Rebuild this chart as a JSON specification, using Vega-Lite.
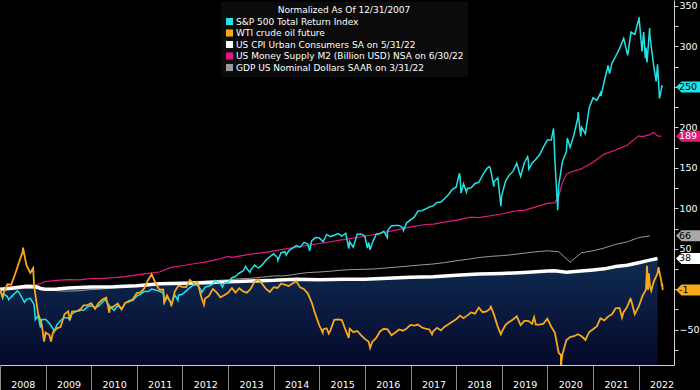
{
 "$schema": "https://vega.github.io/schema/vega-lite/v6.json",
 "width": 674,
 "height": 365,
 "autosize": {"type": "none"},
 "padding": {"left": 0, "top": 0, "right": 26, "bottom": 25},
 "background": "#000000",
 "config": {"view": {"stroke": null}, "font": "DejaVu Sans"},
 "datasets": {
  "spx": [
   {"d":"2007-12-31","v":0},{"d":"2008-01-22","v":-10.7},{"d":"2008-01-31","v":-6},{"d":"2008-02-29","v":-9},{"d":"2008-03-10","v":-12.9},{"d":"2008-03-31","v":-9.4},{"d":"2008-04-30","v":-4.9},{"d":"2008-05-19","v":-2},{"d":"2008-05-31","v":-3.7},{"d":"2008-06-30","v":-11.8},{"d":"2008-07-15","v":-16.2},{"d":"2008-07-31","v":-12.5},{"d":"2008-08-31","v":-11.2},{"d":"2008-09-30","v":-19.1},{"d":"2008-10-10","v":-37.5},{"d":"2008-10-31","v":-32.7},{"d":"2008-11-20","v":-47.5},{"d":"2008-11-30","v":-37.6},{"d":"2008-12-31","v":-37},
   {"d":"2009-01-31","v":-42.3},{"d":"2009-02-28","v":-48.5},{"d":"2009-03-09","v":-52.6},{"d":"2009-03-31","v":-44},{"d":"2009-04-30","v":-38.6},{"d":"2009-05-31","v":-35.2},{"d":"2009-06-30","v":-35.1},{"d":"2009-07-10","v":-37.9},{"d":"2009-07-31","v":-30.1},{"d":"2009-08-31","v":-27.6},{"d":"2009-09-30","v":-24.9},{"d":"2009-10-31","v":-26.2},{"d":"2009-11-30","v":-21.8},{"d":"2009-12-31","v":-20.3},
   {"d":"2010-01-31","v":-23.1},{"d":"2010-02-28","v":-20.8},{"d":"2010-03-31","v":-16},{"d":"2010-04-23","v":-12.4},{"d":"2010-04-30","v":-14.6},{"d":"2010-05-31","v":-21.4},{"d":"2010-07-02","v":-26},{"d":"2010-07-31","v":-20.3},{"d":"2010-08-31","v":-24},{"d":"2010-09-30","v":-17.2},{"d":"2010-10-31","v":-14},{"d":"2010-11-30","v":-14},{"d":"2010-12-31","v":-8.3},
   {"d":"2011-01-31","v":-6},{"d":"2011-02-28","v":-2.8},{"d":"2011-03-31","v":-2.8},{"d":"2011-04-29","v":0.2},{"d":"2011-05-31","v":-1},{"d":"2011-06-30","v":-2.6},{"d":"2011-07-31","v":-4.6},{"d":"2011-08-08","v":-17},{"d":"2011-08-31","v":-9.8},{"d":"2011-09-30","v":-16.1},{"d":"2011-10-03","v":-19},{"d":"2011-10-31","v":-7},{"d":"2011-11-25","v":-13.8},{"d":"2011-11-30","v":-7.3},{"d":"2011-12-31","v":-6.3},
   {"d":"2012-01-31","v":-2},{"d":"2012-02-29","v":2.1},{"d":"2012-03-31","v":5.5},{"d":"2012-04-30","v":4.9},{"d":"2012-05-31","v":-1.5},{"d":"2012-06-04","v":-3.9},{"d":"2012-06-30","v":2.6},{"d":"2012-07-31","v":4.1},{"d":"2012-08-31","v":6.3},{"d":"2012-09-14","v":10.9},{"d":"2012-09-30","v":9.1},{"d":"2012-10-31","v":7.1},{"d":"2012-11-15","v":2.7},{"d":"2012-11-30","v":7.6},{"d":"2012-12-31","v":8.6},
   {"d":"2013-01-31","v":14.3},{"d":"2013-02-28","v":15.7},{"d":"2013-03-31","v":20.1},{"d":"2013-04-30","v":22.5},{"d":"2013-05-21","v":28.2},{"d":"2013-05-31","v":25.3},{"d":"2013-06-24","v":21},{"d":"2013-06-30","v":23.6},{"d":"2013-07-31","v":30},{"d":"2013-08-31","v":26.1},{"d":"2013-09-30","v":30.1},{"d":"2013-10-31","v":36.1},{"d":"2013-11-30","v":40.2},{"d":"2013-12-31","v":43.8},
   {"d":"2014-01-31","v":38.9},{"d":"2014-02-03","v":35.7},{"d":"2014-02-28","v":45.1},{"d":"2014-03-31","v":46.4},{"d":"2014-04-11","v":42.1},{"d":"2014-04-30","v":47.5},{"d":"2014-05-31","v":50.9},{"d":"2014-06-30","v":54},{"d":"2014-07-31","v":52},{"d":"2014-08-31","v":58},{"d":"2014-09-30","v":55.8},{"d":"2014-10-15","v":47.3},{"d":"2014-10-31","v":59.7},{"d":"2014-11-30","v":63.9},{"d":"2014-12-31","v":63.5},
   {"d":"2015-01-31","v":58.7},{"d":"2015-02-28","v":67.7},{"d":"2015-03-31","v":65.1},{"d":"2015-04-30","v":66.8},{"d":"2015-05-31","v":68.8},{"d":"2015-06-30","v":65.6},{"d":"2015-07-31","v":69.2},{"d":"2015-08-24","v":50.3},{"d":"2015-08-31","v":58.8},{"d":"2015-09-29","v":52},{"d":"2015-10-31","v":68.1},{"d":"2015-11-30","v":68.4},{"d":"2015-12-31","v":65.8},
   {"d":"2016-01-20","v":51},{"d":"2016-01-31","v":57.7},{"d":"2016-02-11","v":48.8},{"d":"2016-02-29","v":57.3},{"d":"2016-03-31","v":68},{"d":"2016-04-30","v":68.8},{"d":"2016-05-31","v":71.7},{"d":"2016-06-27","v":64},{"d":"2016-06-30","v":72.2},{"d":"2016-07-31","v":78.6},{"d":"2016-08-31","v":78.8},{"d":"2016-09-30","v":78.9},{"d":"2016-10-31","v":75.7},{"d":"2016-11-04","v":72.4},{"d":"2016-11-30","v":82.1},{"d":"2016-12-31","v":85.7},
   {"d":"2017-01-31","v":89.4},{"d":"2017-02-28","v":96.7},{"d":"2017-03-31","v":97},{"d":"2017-04-30","v":99.1},{"d":"2017-05-31","v":101.7},{"d":"2017-06-30","v":103},{"d":"2017-07-31","v":107.3},{"d":"2017-08-31","v":107.7},{"d":"2017-09-30","v":112.1},{"d":"2017-10-31","v":117.1},{"d":"2017-11-30","v":123.6},{"d":"2017-12-31","v":126.1},
   {"d":"2018-01-26","v":143.3},{"d":"2018-01-31","v":139.2},{"d":"2018-02-08","v":118.8},{"d":"2018-02-28","v":130.3},{"d":"2018-03-23","v":119.9},{"d":"2018-03-31","v":124.5},{"d":"2018-04-30","v":125.4},{"d":"2018-05-31","v":130.7},{"d":"2018-06-30","v":132.2},{"d":"2018-07-31","v":140.9},{"d":"2018-08-31","v":148.6},{"d":"2018-09-20","v":151.5},{"d":"2018-09-30","v":150},{"d":"2018-10-29","v":126.9},{"d":"2018-10-31","v":133.1},{"d":"2018-11-30","v":137.6},{"d":"2018-12-24","v":102.6},{"d":"2018-12-31","v":116.1},
   {"d":"2019-01-31","v":133.6},{"d":"2019-02-28","v":140.9},{"d":"2019-03-31","v":145.6},{"d":"2019-04-30","v":155.7},{"d":"2019-05-31","v":139.3},{"d":"2019-06-30","v":156.3},{"d":"2019-07-26","v":163.9},{"d":"2019-07-31","v":160},{"d":"2019-08-05","v":148.4},{"d":"2019-08-31","v":155.8},{"d":"2019-09-30","v":160.6},{"d":"2019-10-31","v":166.4},{"d":"2019-11-30","v":175.9},{"d":"2019-12-31","v":184.3},
   {"d":"2020-01-31","v":184.3},{"d":"2020-02-19","v":198.6},{"d":"2020-02-29","v":160.7},{"d":"2020-03-23","v":97.7},{"d":"2020-03-31","v":128.5},{"d":"2020-04-30","v":157.8},{"d":"2020-05-31","v":169.9},{"d":"2020-06-08","v":186.8},{"d":"2020-06-30","v":175.3},{"d":"2020-07-31","v":190.9},{"d":"2020-08-31","v":211.8},{"d":"2020-09-02","v":219.1},{"d":"2020-09-23","v":188.7},{"d":"2020-09-30","v":200},{"d":"2020-10-30","v":192.2},{"d":"2020-11-30","v":224.1},{"d":"2020-12-31","v":236.6},
   {"d":"2021-01-31","v":233.3},{"d":"2021-02-28","v":242.4},{"d":"2021-03-04","v":238.6},{"d":"2021-03-31","v":257.3},{"d":"2021-04-30","v":276.5},{"d":"2021-05-12","v":266.5},{"d":"2021-05-31","v":279.1},{"d":"2021-06-30","v":287.9},{"d":"2021-07-31","v":297.3},{"d":"2021-08-31","v":309.3},{"d":"2021-09-02","v":310},{"d":"2021-10-04","v":289},{"d":"2021-10-31","v":317.7},{"d":"2021-11-30","v":314.7},{"d":"2021-12-31","v":333.3},
   {"d":"2022-01-03","v":336.1},{"d":"2022-01-27","v":293.8},{"d":"2022-02-09","v":317.8},{"d":"2022-02-23","v":285.1},{"d":"2022-02-28","v":298.7},{"d":"2022-03-08","v":280.3},{"d":"2022-03-29","v":322.7},{"d":"2022-03-31","v":313.4},{"d":"2022-04-29","v":277.6},{"d":"2022-05-20","v":256.8},{"d":"2022-05-31","v":278},{"d":"2022-06-16","v":235.8},{"d":"2022-06-30","v":246.7},{"d":"2022-07-05","v":251},{"d":"2022-07-12","v":250}
  ],
  "wti": [
   {"d":"2007-12-31","v":0},{"d":"2008-01-23","v":-9.4},{"d":"2008-01-31","v":-4.4},{"d":"2008-02-29","v":6.1},{"d":"2008-03-31","v":5.8},{"d":"2008-04-30","v":18.2},{"d":"2008-05-31","v":32.7},{"d":"2008-06-30","v":45.9},{"d":"2008-07-03","v":51.4},{"d":"2008-07-31","v":29.3},{"d":"2008-08-31","v":20.3},{"d":"2008-09-22","v":26},{"d":"2008-09-30","v":4.9},{"d":"2008-10-31","v":-29.4},{"d":"2008-11-30","v":-43.3},{"d":"2008-12-19","v":-64.7},{"d":"2008-12-31","v":-53.5},
   {"d":"2009-01-31","v":-56.6},{"d":"2009-02-12","v":-64.6},{"d":"2009-02-28","v":-53.4},{"d":"2009-03-31","v":-48.3},{"d":"2009-04-30","v":-46.7},{"d":"2009-05-31","v":-30.9},{"d":"2009-06-30","v":-27.2},{"d":"2009-07-14","v":-38},{"d":"2009-07-31","v":-27.6},{"d":"2009-08-31","v":-27.1},{"d":"2009-09-30","v":-26.4},{"d":"2009-10-31","v":-19.8},{"d":"2009-11-30","v":-19.5},{"d":"2009-12-31","v":-17.3},
   {"d":"2010-01-31","v":-24.1},{"d":"2010-02-28","v":-17},{"d":"2010-03-31","v":-12.7},{"d":"2010-04-30","v":-10.2},{"d":"2010-05-25","v":-29},{"d":"2010-05-31","v":-22.9},{"d":"2010-06-30","v":-21.2},{"d":"2010-07-31","v":-17.7},{"d":"2010-08-31","v":-25.1},{"d":"2010-09-30","v":-16.7},{"d":"2010-10-31","v":-15.2},{"d":"2010-11-30","v":-12.4},{"d":"2010-12-31","v":-4.8},
   {"d":"2011-01-31","v":-3.9},{"d":"2011-02-28","v":1},{"d":"2011-03-31","v":11.2},{"d":"2011-04-29","v":18.7},{"d":"2011-05-31","v":7},{"d":"2011-06-30","v":-0.6},{"d":"2011-07-31","v":-0.3},{"d":"2011-08-08","v":-15.3},{"d":"2011-08-31","v":-7.5},{"d":"2011-09-30","v":-17.5},{"d":"2011-10-03","v":-21.2},{"d":"2011-10-31","v":-2.9},{"d":"2011-11-30","v":4.6},{"d":"2011-12-31","v":3},
   {"d":"2012-01-31","v":2.6},{"d":"2012-02-29","v":11.6},{"d":"2012-03-31","v":7.3},{"d":"2012-04-30","v":9.3},{"d":"2012-05-31","v":-9.8},{"d":"2012-06-21","v":-19.1},{"d":"2012-06-30","v":-11.5},{"d":"2012-07-31","v":-8.3},{"d":"2012-08-31","v":0.5},{"d":"2012-09-30","v":-3.9},{"d":"2012-10-31","v":-10.1},{"d":"2012-11-30","v":-7.4},{"d":"2012-12-31","v":-4.3},
   {"d":"2013-01-31","v":1.6},{"d":"2013-02-28","v":-4.1},{"d":"2013-03-31","v":1.3},{"d":"2013-04-30","v":-2.6},{"d":"2013-05-31","v":-4.2},{"d":"2013-06-30","v":0.6},{"d":"2013-07-31","v":9.4},{"d":"2013-08-31","v":12.2},{"d":"2013-09-30","v":6.6},{"d":"2013-10-31","v":0.4},{"d":"2013-11-30","v":-3.4},{"d":"2013-12-31","v":2.5},
   {"d":"2014-01-31","v":1.6},{"d":"2014-02-28","v":6.9},{"d":"2014-03-31","v":5.8},{"d":"2014-04-30","v":3.9},{"d":"2014-05-31","v":7},{"d":"2014-06-30","v":9.8},{"d":"2014-07-31","v":2.3},{"d":"2014-08-31","v":0},{"d":"2014-09-30","v":-5},{"d":"2014-10-31","v":-16.1},{"d":"2014-11-30","v":-31.1},{"d":"2014-12-31","v":-44.5},
   {"d":"2015-01-28","v":-53.7},{"d":"2015-01-31","v":-49.7},{"d":"2015-02-28","v":-48.2},{"d":"2015-03-17","v":-54.7},{"d":"2015-03-31","v":-50.4},{"d":"2015-04-30","v":-37.9},{"d":"2015-05-31","v":-37.2},{"d":"2015-06-30","v":-38},{"d":"2015-07-31","v":-50.9},{"d":"2015-08-24","v":-60.2},{"d":"2015-08-31","v":-48.7},{"d":"2015-09-30","v":-53},{"d":"2015-10-31","v":-51.5},{"d":"2015-11-30","v":-56.6},{"d":"2015-12-31","v":-61.4},
   {"d":"2016-01-31","v":-65},{"d":"2016-02-11","v":-72.7},{"d":"2016-02-29","v":-64.8},{"d":"2016-03-31","v":-60.1},{"d":"2016-04-30","v":-52.2},{"d":"2016-05-31","v":-48.8},{"d":"2016-06-30","v":-49.6},{"d":"2016-07-31","v":-56.7},{"d":"2016-08-31","v":-53.4},{"d":"2016-09-30","v":-49.7},{"d":"2016-10-31","v":-51.2},{"d":"2016-11-30","v":-48.5},{"d":"2016-12-31","v":-44},
   {"d":"2017-01-31","v":-45},{"d":"2017-02-28","v":-43.7},{"d":"2017-03-31","v":-47.3},{"d":"2017-04-30","v":-48.6},{"d":"2017-05-31","v":-49.7},{"d":"2017-06-21","v":-55.7},{"d":"2017-06-30","v":-52},{"d":"2017-07-31","v":-47.7},{"d":"2017-08-31","v":-50.8},{"d":"2017-09-30","v":-46.2},{"d":"2017-10-31","v":-43.3},{"d":"2017-11-30","v":-40.2},{"d":"2017-12-31","v":-37},
   {"d":"2018-01-31","v":-32.6},{"d":"2018-02-28","v":-35.8},{"d":"2018-03-31","v":-32.3},{"d":"2018-04-30","v":-28.6},{"d":"2018-05-31","v":-30.2},{"d":"2018-06-30","v":-22.7},{"d":"2018-07-31","v":-28.4},{"d":"2018-08-31","v":-27.3},{"d":"2018-09-30","v":-23.7},{"d":"2018-10-03","v":-20.4},{"d":"2018-10-31","v":-32},{"d":"2018-11-30","v":-46.9},{"d":"2018-12-24","v":-55.7},{"d":"2018-12-31","v":-52.7},
   {"d":"2019-01-31","v":-44},{"d":"2019-02-28","v":-40.4},{"d":"2019-03-31","v":-37.3},{"d":"2019-04-30","v":-33.4},{"d":"2019-05-31","v":-44.3},{"d":"2019-06-30","v":-39.1},{"d":"2019-07-31","v":-39},{"d":"2019-08-31","v":-42.6},{"d":"2019-09-16","v":-34.5},{"d":"2019-09-30","v":-43.7},{"d":"2019-10-31","v":-43.6},{"d":"2019-11-30","v":-42.5},{"d":"2019-12-31","v":-36.4},
   {"d":"2020-01-31","v":-46.3},{"d":"2020-02-29","v":-53.4},{"d":"2020-03-31","v":-78.7},{"d":"2020-04-17","v":-81},{"d":"2020-04-20","v":-139.2},{"d":"2020-04-21","v":-89.6},{"d":"2020-04-30","v":-80.4},{"d":"2020-05-31","v":-63},{"d":"2020-06-30","v":-59.1},{"d":"2020-07-31","v":-58},{"d":"2020-08-31","v":-55.6},{"d":"2020-09-30","v":-58.1},{"d":"2020-10-31","v":-62.7},{"d":"2020-11-30","v":-52.8},{"d":"2020-12-31","v":-49.4},
   {"d":"2021-01-31","v":-45.6},{"d":"2021-02-28","v":-35.9},{"d":"2021-03-31","v":-38.4},{"d":"2021-04-30","v":-33.8},{"d":"2021-05-31","v":-30.9},{"d":"2021-06-30","v":-23.5},{"d":"2021-07-31","v":-23},{"d":"2021-08-20","v":-35.1},{"d":"2021-08-31","v":-28.6},{"d":"2021-09-30","v":-21.8},{"d":"2021-10-26","v":-11.8},{"d":"2021-10-31","v":-12.9},{"d":"2021-11-30","v":-31},{"d":"2021-12-31","v":-21.6},
   {"d":"2022-01-31","v":-8.2},{"d":"2022-02-28","v":-0.3},{"d":"2022-03-08","v":28.9},{"d":"2022-03-16","v":-1},{"d":"2022-03-23","v":19.7},{"d":"2022-03-31","v":4.5},{"d":"2022-04-11","v":-1.8},{"d":"2022-04-30","v":9.1},{"d":"2022-05-31","v":19.5},{"d":"2022-06-08","v":27.2},{"d":"2022-06-30","v":10.2},{"d":"2022-07-05","v":3.7},{"d":"2022-07-07","v":7},{"d":"2022-07-12","v":-1}
  ],
  "cpi": [
   {"d":"2007-12-31","v":0},{"d":"2008-03-31","v":1.3},{"d":"2008-07-31","v":3.6},{"d":"2008-09-30","v":3.4},{"d":"2008-10-31","v":2.4},{"d":"2008-11-30","v":0.6},{"d":"2008-12-31","v":0},{"d":"2009-03-31","v":0.4},{"d":"2009-06-30","v":1.6},{"d":"2009-09-30","v":2.3},{"d":"2009-12-31","v":2.8},{"d":"2010-06-30","v":3.1},{"d":"2010-12-31","v":4.3},{"d":"2011-06-30","v":6.7},{"d":"2011-12-31","v":7.4},{"d":"2012-06-30","v":8.1},{"d":"2012-12-31","v":9.3},{"d":"2013-06-30","v":10.2},{"d":"2013-12-31","v":11},{"d":"2014-06-30","v":12.5},{"d":"2014-12-31","v":11.8},{"d":"2015-06-30","v":12.4},{"d":"2015-12-31","v":12.5},{"d":"2016-06-30","v":13.6},{"d":"2016-12-31","v":14.9},{"d":"2017-06-30","v":15.5},{"d":"2017-12-31","v":17.2},{"d":"2018-06-30","v":18.8},{"d":"2018-12-31","v":19.5},{"d":"2019-06-30","v":20.8},{"d":"2019-12-31","v":22.5},{"d":"2020-02-29","v":22.8},{"d":"2020-05-31","v":21},{"d":"2020-12-31","v":23.9},{"d":"2021-03-31","v":25.2},{"d":"2021-06-30","v":28.2},{"d":"2021-09-30","v":29.6},{"d":"2021-12-31","v":32.8},{"d":"2022-03-31","v":36},{"d":"2022-05-31","v":38}
  ],
  "m2": [
   {"d":"2007-12-31","v":0},{"d":"2008-03-31","v":3.5},{"d":"2008-06-30","v":3.2},{"d":"2008-09-30","v":4.3},{"d":"2008-12-31","v":9.6},{"d":"2009-03-31","v":11},{"d":"2009-06-30","v":11.8},{"d":"2009-09-30","v":11.5},{"d":"2009-12-31","v":13.3},{"d":"2010-03-31","v":13.5},{"d":"2010-06-30","v":14.3},{"d":"2010-09-30","v":15.6},{"d":"2010-12-31","v":17.8},{"d":"2011-03-31","v":19.5},{"d":"2011-06-30","v":21.3},{"d":"2011-09-30","v":27},{"d":"2011-12-31","v":29},{"d":"2012-03-31","v":31.5},{"d":"2012-06-30","v":33.5},{"d":"2012-09-30","v":36.5},{"d":"2012-12-31","v":40.5},{"d":"2013-01-31","v":39.5},{"d":"2013-03-31","v":41},{"d":"2013-06-30","v":43.5},{"d":"2013-09-30","v":45},{"d":"2013-12-31","v":47.5},{"d":"2014-06-30","v":52},{"d":"2014-12-31","v":56.5},{"d":"2015-06-30","v":61},{"d":"2015-12-31","v":65.5},{"d":"2016-06-30","v":71},{"d":"2016-12-31","v":77},{"d":"2017-04-30","v":80},{"d":"2017-06-30","v":80.5},{"d":"2017-12-31","v":85.5},{"d":"2018-04-30","v":89},{"d":"2018-06-30","v":88.5},{"d":"2018-12-31","v":93},{"d":"2019-04-30","v":97},{"d":"2019-06-30","v":97.5},{"d":"2019-12-31","v":106},{"d":"2020-02-29","v":107},{"d":"2020-03-31","v":115},{"d":"2020-04-30","v":132},{"d":"2020-05-31","v":142},{"d":"2020-06-30","v":144.5},{"d":"2020-09-30","v":149},{"d":"2020-12-31","v":157},{"d":"2021-03-31","v":167},{"d":"2021-06-30","v":172},{"d":"2021-09-30","v":178},{"d":"2021-12-31","v":189.5},{"d":"2022-01-31","v":188.5},{"d":"2022-03-31","v":191},{"d":"2022-04-30","v":194},{"d":"2022-05-31","v":189.5},{"d":"2022-06-30","v":189}
  ],
  "gdp": [
   {"d":"2007-12-31","v":0},{"d":"2008-03-31","v":-0.1},{"d":"2008-06-30","v":1},{"d":"2008-09-30","v":1.2},{"d":"2008-12-31","v":-0.7},{"d":"2009-03-31","v":-1.9},{"d":"2009-06-30","v":-2.3},{"d":"2009-09-30","v":-1.8},{"d":"2009-12-31","v":-0.4},{"d":"2010-03-31","v":0.3},{"d":"2010-06-30","v":1.8},{"d":"2010-09-30","v":2.9},{"d":"2010-12-31","v":4},{"d":"2011-03-31","v":4.3},{"d":"2011-06-30","v":5.7},{"d":"2011-09-30","v":6.3},{"d":"2011-12-31","v":7.7},{"d":"2012-03-31","v":9.2},{"d":"2012-06-30","v":10.1},{"d":"2012-09-30","v":10.9},{"d":"2012-12-31","v":11.6},{"d":"2013-03-31","v":13},{"d":"2013-06-30","v":13.5},{"d":"2013-09-30","v":14.9},{"d":"2013-12-31","v":16.4},{"d":"2014-03-31","v":16.5},{"d":"2014-06-30","v":18.7},{"d":"2014-09-30","v":20.6},{"d":"2014-12-31","v":21.3},{"d":"2015-03-31","v":22.3},{"d":"2015-06-30","v":23.6},{"d":"2015-09-30","v":24.4},{"d":"2015-12-31","v":24.6},{"d":"2016-03-31","v":25.2},{"d":"2016-06-30","v":26.5},{"d":"2016-09-30","v":27.6},{"d":"2016-12-31","v":28.9},{"d":"2017-03-31","v":30.1},{"d":"2017-06-30","v":31.2},{"d":"2017-09-30","v":32.9},{"d":"2017-12-31","v":35.2},{"d":"2018-03-31","v":37},{"d":"2018-06-30","v":39.1},{"d":"2018-09-30","v":40.6},{"d":"2018-12-31","v":41.5},{"d":"2019-03-31","v":42.8},{"d":"2019-06-30","v":44.6},{"d":"2019-09-30","v":46.3},{"d":"2019-12-31","v":47.5},{"d":"2020-03-31","v":46.4},{"d":"2020-06-30","v":33.4},{"d":"2020-09-30","v":45.2},{"d":"2020-12-31","v":47.5},{"d":"2021-03-31","v":51},{"d":"2021-06-30","v":55.5},{"d":"2021-09-30","v":58.5},{"d":"2021-12-31","v":63.8},{"d":"2022-03-31","v":66}
  ],
  "badges": [
   {"s":"SPX","v":250,"t":"250"},{"s":"M2","v":189,"t":"189"},{"s":"GDP","v":66,"t":"66"},{"s":"CPI","v":38,"t":"38"},{"s":"WTI","v":-1,"t":"-1"}
  ]
 },
 "encoding": {
  "y": {"field": "v", "type": "quantitative", "title": null,
   "scale": {"domain": [-93.6, 357.4], "nice": false, "zero": false},
   "axis": {"orient": "right", "values": [-75, -50, -25, 0, 25, 50, 75, 100, 125, 150, 175, 200, 225, 250, 275, 300, 325, 350], "labelExpr": "(datum.value % 50 === 0 && datum.value !== 0) ? datum.label : ''", "grid": false, "tickSize": 4, "tickColor": "#cfcfcf", "domainColor": "#cfcfcf", "labelPadding": 1, "labelColor": "#ffffff", "labelFontSize": 9.5, "labelAlign": "left", "labelBaseline": "middle"}}
 },
 "layer": [
  {"data": {"name": "cpi"},
   "mark": {"type": "area", "color": {"gradient": "linear", "x1": 0, "y1": 0, "x2": 0, "y2": 1, "stops": [{"offset": 0, "color": "#0f2c52"}, {"offset": 1, "color": "#06092b"}]}},
   "encoding": {
    "x": {"field": "d", "type": "temporal", "title": null,
     "scale": {"type": "utc", "domain": [{"year": 2008, "month": 1, "date": 1, "utc": true}, {"year": 2022, "month": 10, "date": 10, "utc": true}]},
     "axis": {"tickCount": {"interval": "year", "step": 1}, "labelExpr": "utcFormat(datum.value, '%Y')", "grid": false, "tickSize": 25, "tickColor": "#8c8c8c", "domainColor": "#cfcfcf", "labelOffset": 22.8, "labelPadding": -11, "labelColor": "#ffffff", "labelFontSize": 9.5, "labelAlign": "center", "labelBaseline": "top", "labelFlush": false, "labelOverlap": false}},
    "y2": {"datum": -93.6}}},
  {"data": {"name": "gdp"},
   "mark": {"type": "line", "strokeWidth": 1},
   "encoding": {
    "x": {"field": "d", "type": "temporal"},
    "color": {"datum": "GDP US Nominal Dollars SAAR on 3/31/22", "type": "nominal",
     "scale": {"domain": ["S&P 500 Total Return Index", "WTI crude oil future", "US CPI Urban Consumers SA  on 5/31/22", "US Money Supply M2 (Billion USD) NSA on 6/30/22", "GDP US Nominal Dollars SAAR on 3/31/22"], "range": ["#22e3e8", "#f7a81b", "#ffffff", "#e3197f", "#9a9a9a"]},
     "legend": {"title": "Normalized As Of 12/31/2007", "orient": "none", "legendX": 221, "legendY": 2, "fillColor": "#0b0b0b", "padding": 4, "symbolType": "square", "symbolSize": 50, "symbolStrokeWidth": 0, "labelColor": "#ffffff", "labelFontSize": 9, "labelFont": "DejaVu Sans", "labelLimit": 400, "labelOffset": 2, "titleColor": "#ffffff", "titleFontSize": 9, "titleFont": "DejaVu Sans", "titleFontWeight": "normal", "titleAnchor": "middle", "titlePadding": 2, "rowPadding": 1.5,
      "encode": {"symbols": {"update": {"fill": {"scale": "color", "field": "value"}, "stroke": {"value": "transparent"}}}}}}}},
  {"data": {"name": "m2"},
   "mark": {"type": "line", "strokeWidth": 1.2},
   "encoding": {"x": {"field": "d", "type": "temporal"}, "color": {"datum": "US Money Supply M2 (Billion USD) NSA on 6/30/22", "type": "nominal"}}},
  {"data": {"name": "cpi"},
   "mark": {"type": "line", "strokeWidth": 3.5},
   "encoding": {"x": {"field": "d", "type": "temporal"}, "color": {"datum": "US CPI Urban Consumers SA  on 5/31/22", "type": "nominal"}}},
  {"data": {"name": "spx"},
   "mark": {"type": "line", "strokeWidth": 1.5},
   "encoding": {"x": {"field": "d", "type": "temporal"}, "color": {"datum": "S&P 500 Total Return Index", "type": "nominal"}}},
  {"data": {"name": "wti"},
   "mark": {"type": "line", "strokeWidth": 1.8, "clip": true},
   "encoding": {"x": {"field": "d", "type": "temporal"}, "color": {"datum": "WTI crude oil future", "type": "nominal"}}},
  {"data": {"name": "badges"},
   "mark": {"type": "point", "shape": "M -1 0 L -0.5 -0.5 L 2.5 -0.5 L 2.5 0.5 L -0.5 0.5 Z", "size": 484, "filled": true, "opacity": 1, "strokeWidth": 0, "clip": false},
   "encoding": {"x": {"datum": {"year": 2023, "month": 1, "date": 22, "utc": true}, "type": "temporal"},
    "fill": {"field": "s", "type": "nominal", "legend": null, "scale": {"domain": ["SPX", "WTI", "CPI", "M2", "GDP"], "range": ["#22e3e8", "#f7a81b", "#ffffff", "#e3197f", "#a8a8a8"]}}}},
  {"data": {"name": "badges"},
   "mark": {"type": "text", "align": "left", "baseline": "middle", "dx": -8, "fontSize": 9.5, "font": "DejaVu Sans", "clip": false},
   "encoding": {"x": {"datum": {"year": 2023, "month": 1, "date": 22, "utc": true}, "type": "temporal"},
    "text": {"field": "t"},
    "color": {"condition": {"test": "datum.s === 'M2'", "value": "#ffffff"}, "value": "#000000"}}}
 ]
}
